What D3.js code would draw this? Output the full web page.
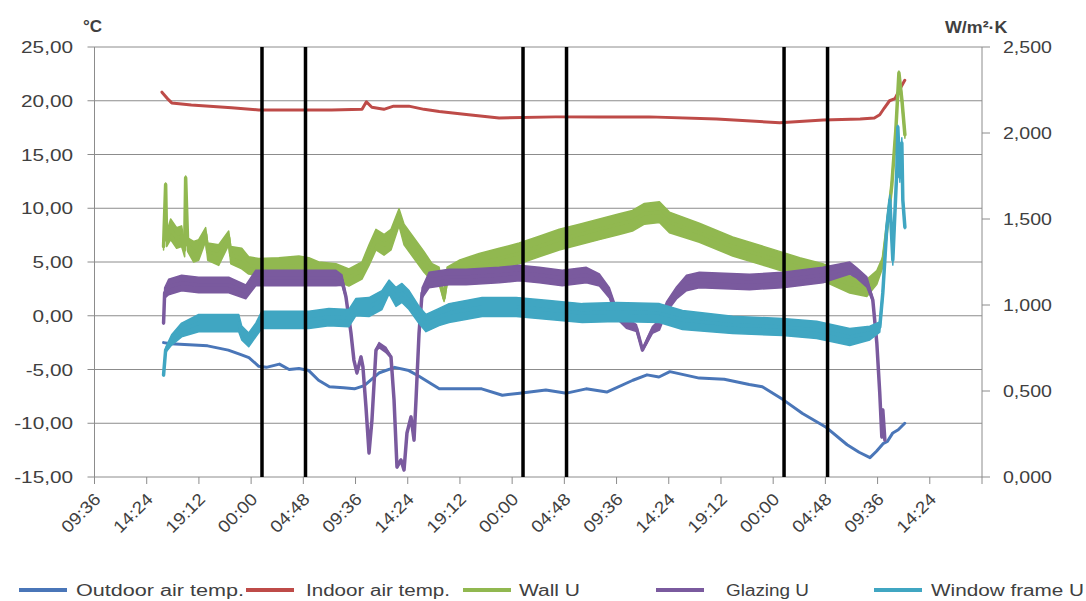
<!DOCTYPE html>
<html><head><meta charset="utf-8">
<script src="https://cdn.jsdelivr.net/npm/d3@7"></script>
<style>
body{margin:0;background:#fff}
svg{display:block}
text{font-family:"Liberation Sans",Arial,sans-serif;fill:#404040}
</style>
</head><body>
<svg id="c" width="1086" height="601"></svg>
<script>
// ---- data (time in hours from start of day 0) ----
const tickHours = [9.6,14.4,19.2,24,28.8,33.6,38.4,43.2,48,52.8,57.6,62.4,67.2,72,76.8,81.6,86.4,91.2];
const tickLabels = ["09:36","14:24","19:12","00:00","04:48","09:36","14:24","19:12","00:00","04:48","09:36","14:24","19:12","00:00","04:48","09:36","14:24",""];
const markerHours = [25,29,49,53,73,77];
const leftTicks = [-15,-10,-5,0,5,10,15,20,25];
const rightTicks = [0,0.5,1,1.5,2,2.5];
const seriesNames = ["Outdoor air temp.","Indoor air temp.","Wall U","Glazing U","Window frame U"];
const seriesColors = ["#4A76B8","#BE4B48","#91B850","#7A5A9E","#40A6C2"];

// [hour, °C]
const outdoorTemp = [[15.95,-2.5],[16.6,-2.6],[18.3,-2.7],[20.0,-2.8],[21.9,-3.2],[23.0,-3.6],[23.8,-3.9],[24.7,-4.7],[25.4,-4.8],[26.6,-4.5],[27.5,-5.0],[28.4,-4.9],[29.3,-5.1],[30.2,-6.0],[31.2,-6.6],[32.5,-6.7],[33.5,-6.8],[34.4,-6.5],[35.8,-5.3],[37.2,-4.8],[38.5,-5.1],[39.4,-5.6],[41.3,-6.8],[43.0,-6.8],[45.2,-6.8],[47.1,-7.4],[48.7,-7.2],[51.1,-6.9],[53.0,-7.2],[54.8,-6.8],[56.7,-7.1],[59.1,-6.0],[60.4,-5.5],[61.5,-5.7],[62.5,-5.2],[65.2,-5.8],[67.5,-5.9],[69.8,-6.4],[71.0,-6.6],[72.9,-7.8],[74.7,-9.1],[76.9,-10.4],[78.8,-12.0],[79.9,-12.7],[80.9,-13.2],[81.5,-12.6],[82.1,-11.9],[82.5,-11.7],[83.0,-10.9],[83.5,-10.6],[84.1,-10.0]];

const indoorTemp = [[15.8,20.8],[16.4,20.1],[16.7,19.8],[18.5,19.6],[22.2,19.35],[24.7,19.15],[31.4,19.15],[34.2,19.2],[34.6,19.9],[35.1,19.4],[36.2,19.2],[37.1,19.5],[38.5,19.5],[39.9,19.2],[41.3,19.0],[44.0,18.7],[46.8,18.4],[52.0,18.5],[56.0,18.5],[60.6,18.5],[66.8,18.3],[72.6,17.95],[76.6,18.2],[80.0,18.3],[81.3,18.4],[81.8,18.7],[82.2,19.3],[82.7,20.0],[83.2,20.2],[83.6,21.0],[84.1,21.9]];

// [hour, U mean, half-width of the noise band] in W/m²·K
const wallU = [[15.95,1.34,0.02],[16.14,1.70,0.01],[16.23,1.38,0.04],[16.6,1.44,0.06],[17.15,1.39,0.06],[17.61,1.40,0.06],[17.89,1.32,0.04],[17.98,1.74,0.01],[18.17,1.35,0.04],[18.72,1.31,0.06],[19.18,1.32,0.06],[19.82,1.41,0.04],[20.01,1.31,0.05],[21.02,1.29,0.06],[21.94,1.39,0.04],[22.13,1.29,0.05],[23.14,1.27,0.06],[23.78,1.23,0.05],[24.7,1.22,0.05],[26.55,1.22,0.055],[28.39,1.23,0.055],[29.31,1.22,0.055],[30.23,1.20,0.05],[31.8,1.19,0.05],[32.99,1.16,0.05],[34.19,1.20,0.05],[34.84,1.29,0.06],[35.48,1.38,0.06],[36.22,1.35,0.06],[36.86,1.38,0.06],[37.6,1.51,0.05],[38.06,1.41,0.06],[38.98,1.33,0.06],[39.9,1.25,0.06],[40.64,1.19,0.05],[41.28,1.17,0.05],[41.74,1.04,0.02],[42.02,1.17,0.05],[43.12,1.20,0.06],[44.97,1.24,0.06],[46.81,1.27,0.06],[48.65,1.30,0.06],[50.49,1.34,0.06],[52.33,1.38,0.06],[54.18,1.41,0.06],[56.02,1.44,0.06],[57.86,1.47,0.06],[59.06,1.49,0.06],[60.16,1.53,0.06],[61.54,1.54,0.06],[62.46,1.48,0.06],[65.21,1.42,0.055],[68.27,1.34,0.055],[71.4,1.28,0.055],[74.44,1.22,0.055],[76.56,1.19,0.05],[79.04,1.12,0.05],[80.61,1.10,0.05],[81.53,1.16,0.04],[82.08,1.25,0.03],[82.54,1.49,0.03],[82.91,1.70,0.03],[83.28,2.02,0.03],[83.56,2.35,0.01],[83.84,2.19,0.03],[84.11,1.99,0.02]];

const glazingU = [[15.95,0.895,0.005],[16.05,1.07,0.03],[16.42,1.105,0.045],[17.61,1.128,0.045],[19.18,1.116,0.045],[21.94,1.116,0.045],[23.51,1.076,0.04],[24.43,1.157,0.045],[28.39,1.157,0.045],[31.8,1.157,0.045],[32.35,1.145,0.03],[32.72,1.047,0.01],[33.18,0.837,0.005],[33.45,0.68,0.005],[33.73,0.605,0.005],[34.1,0.698,0.005],[34.28,0.64,0.005],[34.56,0.407,0.005],[34.84,0.14,0.005],[35.11,0.331,0.005],[35.48,0.738,0.005],[35.76,0.767,0.015],[36.4,0.738,0.015],[36.86,0.698,0.005],[37.14,0.448,0.005],[37.41,0.058,0.005],[37.78,0.099,0.005],[38.06,0.041,0.005],[38.33,0.256,0.005],[38.7,0.349,0.005],[38.98,0.215,0.005],[39.16,0.448,0.005],[39.44,0.837,0.005],[39.72,1.07,0.03],[40.36,1.145,0.045],[42.2,1.163,0.045],[43.77,1.163,0.045],[46.81,1.174,0.045],[48.65,1.186,0.045],[50.49,1.174,0.045],[52.61,1.157,0.045],[54.82,1.174,0.045],[56.02,1.145,0.035],[56.94,1.07,0.03],[57.58,0.953,0.03],[58.5,0.895,0.03],[59.43,0.866,0.02],[59.98,0.738,0.005],[60.44,0.797,0.015],[60.9,0.855,0.02],[61.54,0.884,0.03],[62.19,0.988,0.03],[63.11,1.07,0.035],[64.03,1.128,0.045],[65.21,1.145,0.045],[69.83,1.134,0.045],[72.87,1.145,0.045],[76.56,1.174,0.045],[79.04,1.215,0.035],[79.69,1.186,0.03],[80.61,1.134,0.03],[81.16,1.029,0.01],[81.53,0.779,0.005],[81.8,0.488,0.005],[81.99,0.233,0.005],[82.08,0.39,0.005],[82.27,0.215,0.005]];

const frameU = [[15.95,0.593,0.005],[16.14,0.738,0.015],[16.69,0.797,0.03],[17.61,0.855,0.04],[19.18,0.895,0.05],[21.02,0.895,0.05],[22.86,0.895,0.05],[23.14,0.837,0.04],[23.78,0.797,0.04],[24.43,0.855,0.04],[24.98,0.913,0.05],[27.47,0.913,0.05],[29.31,0.913,0.05],[31.15,0.93,0.05],[32.99,0.924,0.05],[33.64,0.988,0.05],[34.84,0.988,0.055],[36.03,1.029,0.055],[36.68,1.105,0.04],[37.32,1.047,0.055],[37.87,1.07,0.055],[38.52,1.029,0.055],[39.44,0.942,0.05],[40.08,0.895,0.05],[41.28,0.93,0.05],[42.2,0.953,0.055],[45.24,0.988,0.055],[48.37,0.988,0.055],[51.41,0.971,0.055],[54.45,0.953,0.055],[57.58,0.959,0.055],[61.54,0.953,0.055],[63.66,0.913,0.055],[68.27,0.884,0.05],[72.87,0.872,0.05],[76.0,0.855,0.05],[79.04,0.814,0.05],[80.88,0.837,0.04],[81.8,0.872,0.03],[82.08,1.07,0.03],[82.45,1.453,0.03],[82.73,1.61,0.03],[83.0,1.262,0.03],[83.37,1.785,0.03],[83.46,2.035,0.01],[83.65,1.744,0.03],[83.83,1.942,0.03],[83.92,1.61,0.03],[84.11,1.453,0.01]];

// ---- layout ----
const svg = d3.select("#c");
const X0 = 94.5, X1 = 982, Y0 = 47, Y1 = 477;
const x = d3.scaleLinear().domain([9.6, 91.2]).range([X0, X1]);
const yL = d3.scaleLinear().domain([-15, 25]).range([Y1, Y0]);
const yR = d3.scaleLinear().domain([0, 2.5]).range([Y1, Y0]);
const grid = "#8c8c8c";

function stretch(sel, k) {
  sel.each(function () {
    const w = this.getComputedTextLength();
    this.setAttribute("textLength", w * k);
    this.setAttribute("lengthAdjust", "spacingAndGlyphs");
  });
}

// horizontal gridlines
svg.append("g").selectAll("line").data(leftTicks).join("line")
  .attr("x1", X0 - 7).attr("x2", X1)
  .attr("y1", d => yL(d)).attr("y2", d => yL(d))
  .attr("stroke", grid).attr("stroke-width", 1);

// axes lines
svg.append("line").attr("x1", X0).attr("x2", X0).attr("y1", Y0).attr("y2", Y1).attr("stroke", grid);
svg.append("line").attr("x1", X1).attr("x2", X1).attr("y1", Y0).attr("y2", Y1).attr("stroke", grid);

// right ticks
svg.append("g").selectAll("line").data(rightTicks).join("line")
  .attr("x1", X1).attr("x2", X1 + 8)
  .attr("y1", d => yR(d)).attr("y2", d => yR(d))
  .attr("stroke", grid);

// bottom ticks
svg.append("g").selectAll("line").data(tickHours).join("line")
  .attr("x1", d => x(d)).attr("x2", d => x(d))
  .attr("y1", Y1).attr("y2", Y1 + 7)
  .attr("stroke", grid);

// tick labels
const fmtL = d => d3.format(".2f")(d).replace(".", ",").replace("−", "-");
const fmtR = d => d3.format(".3f")(d).replace(".", ",");
svg.append("g").selectAll("text").data(leftTicks).join("text")
  .attr("x", 73).attr("y", d => yL(d)).attr("dy", "0.36em")
  .attr("text-anchor", "end").attr("font-size", 17)
  .text(fmtL).call(stretch, 1.22);
svg.append("g").selectAll("text").data(rightTicks).join("text")
  .attr("x", 1003).attr("y", d => yR(d)).attr("dy", "0.36em")
  .attr("text-anchor", "start").attr("font-size", 17)
  .text(fmtR).call(stretch, 1.15);

// unit labels
svg.append("text").attr("x", 83).attr("y", 32).attr("font-size", 17)
  .attr("font-weight", "bold").attr("fill", "#333").text("°C");
svg.append("text").attr("x", 945).attr("y", 33).attr("font-size", 17)
  .attr("font-weight", "bold").attr("fill", "#333").text("W/m²·K").call(stretch, 1.05);

// x labels
svg.append("g").selectAll("text").data(tickHours.map((h, i) => [h, tickLabels[i]])).join("text")
  .attr("transform", d => `translate(${x(d[0]) + 3},${Y1 + 19}) rotate(-45)`)
  .attr("text-anchor", "end").attr("dy", "0.36em").attr("font-size", 17)
  .text(d => d[1]).call(stretch, 1.12);

// series
const lineL = d3.line().x(d => x(d[0])).y(d => yL(d[1]));
const lineR = d3.line().x(d => x(d[0])).y(d => yR(d[1]));
const bandR = d3.area().x(d => x(d[0])).y0(d => yR(d[1] - d[2])).y1(d => yR(d[1] + d[2]));
const series = [
  {data: outdoorTemp, line: lineL, band: false},
  {data: indoorTemp, line: lineL, band: false},
  {data: wallU, line: lineR, band: true},
  {data: glazingU, line: lineR, band: true},
  {data: frameU, line: lineR, band: true}
];
series.forEach((s, i) => {
  const g = svg.append("g");
  if (s.band) {
    g.append("path").attr("d", bandR(s.data)).attr("fill", seriesColors[i])
      .attr("stroke", seriesColors[i]).attr("stroke-width", 1.5).attr("stroke-linejoin", "round");
  }
  g.append("path").attr("d", s.line(s.data)).attr("fill", "none")
    .attr("stroke", seriesColors[i]).attr("stroke-width", s.band ? 3.5 : 3)
    .attr("stroke-linejoin", "round").attr("stroke-linecap", "round");
});

// black markers
svg.append("g").selectAll("line").data(markerHours).join("line")
  .attr("x1", d => x(d)).attr("x2", d => x(d))
  .attr("y1", Y0).attr("y2", Y1)
  .attr("stroke", "#000").attr("stroke-width", 3.5);

// legend
const legX = [19, 246, 463, 656, 874];
const legTextX = [76, 306, 519, 726, 931];
const legW = [168, 144, 61, 83, 153];
const lg = svg.append("g");
seriesNames.forEach((n, i) => {
  lg.append("line").attr("x1", legX[i]).attr("x2", legX[i] + 48)
    .attr("y1", 590).attr("y2", 590).attr("stroke", seriesColors[i]).attr("stroke-width", 4);
  lg.append("text").attr("x", legTextX[i]).attr("y", 590).attr("dy", "0.36em")
    .attr("font-size", 16).attr("textLength", legW[i]).attr("lengthAdjust", "spacingAndGlyphs")
    .text(n);
});
</script>
</body></html>
